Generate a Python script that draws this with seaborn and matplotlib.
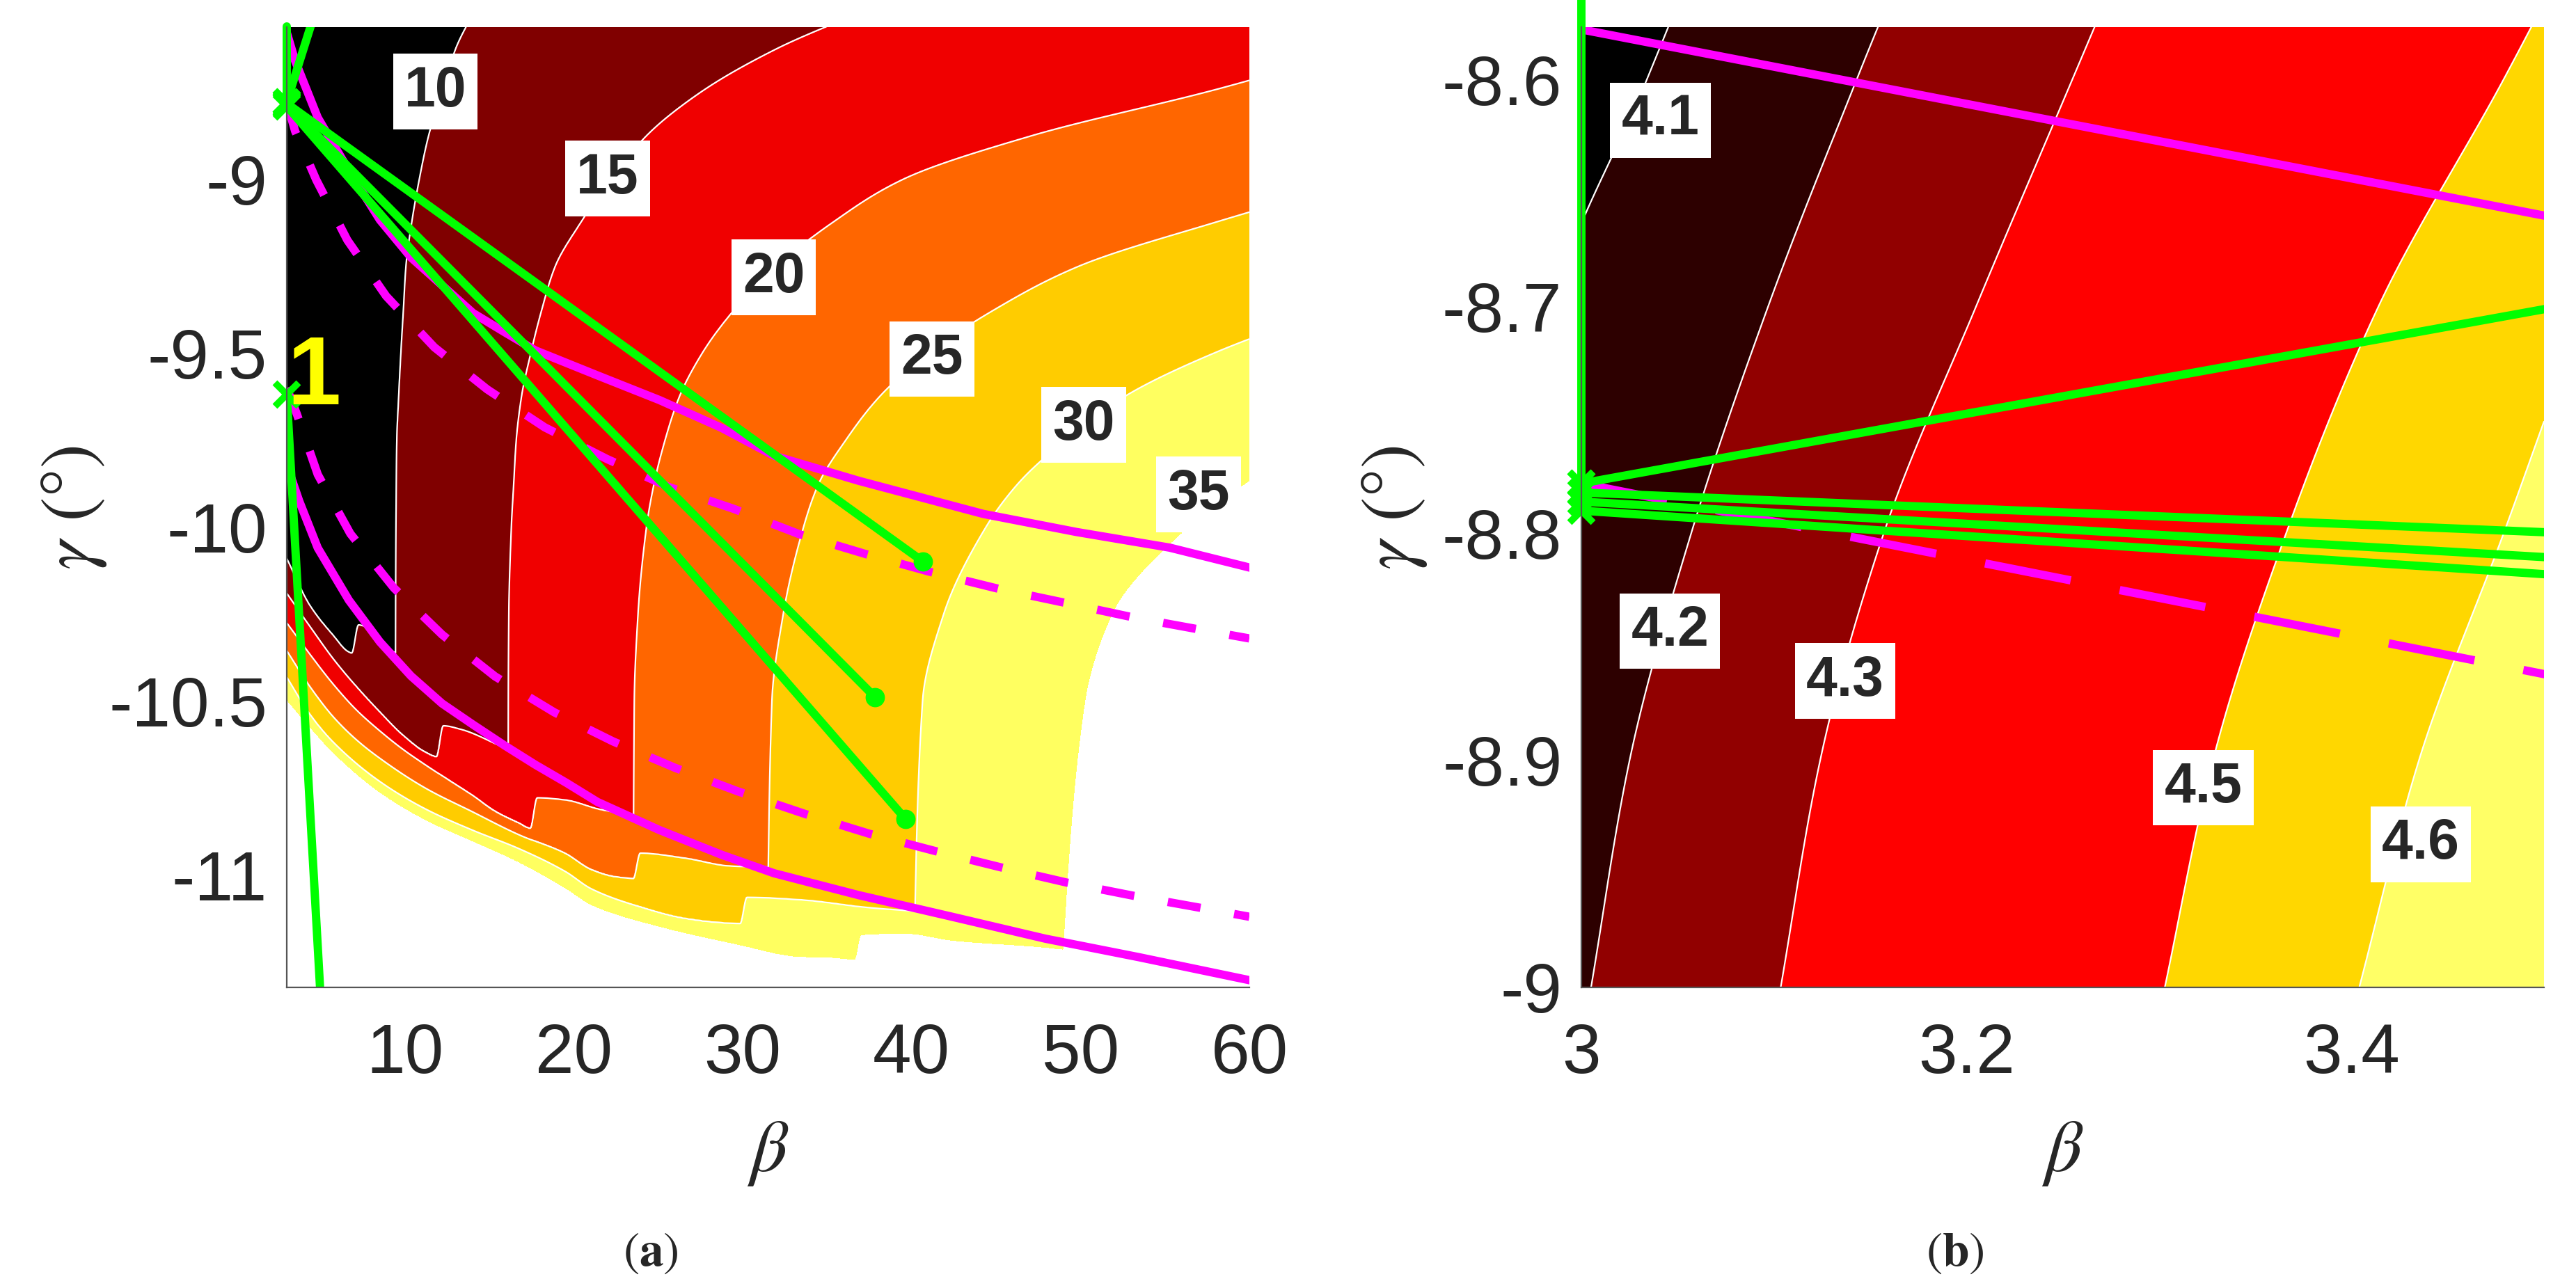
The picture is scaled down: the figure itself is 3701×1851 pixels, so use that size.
import numpy as np
import seaborn as sns
import matplotlib
matplotlib.use('Agg')
import matplotlib.pyplot as plt

sns.set_style('white')
plt.rcParams['font.family'] = ['Liberation Sans', 'DejaVu Sans']
plt.rcParams['mathtext.fontset'] = 'stix'
plt.rcParams['axes.unicode_minus'] = False

# ---------------- panel (a) : contour positions ----------------
lev_a = [10, 15, 20, 25, 30, 35]
colors_a = ['#000000', '#800000', '#f00000', '#ff6600', '#ffcc00', '#ffff60', '#ffffff']

# beta of each contour line at these gamma rows (upper, bending part)
gam_rows_a = [-11.4, -10.5, -10.25, -10.0, -9.875, -9.75, -9.625, -9.5, -9.375,
              -9.25, -9.125, -9.0, -8.875, -8.75, -8.625, -8.5]
beta_c10 = [9.44, 9.44, 9.45, 9.47, 9.49, 9.52, 9.63, 9.76, 9.91, 10.06, 10.4, 10.85, 11.4, 12.2, 13.0, 14.3]
beta_c15 = [16.1, 16.12, 16.15, 16.3, 16.44, 16.59, 16.9, 17.45, 18.1, 18.9, 20.4, 22.2, 24.3, 27.5, 32.0, 38.0]
beta_c20 = [23.5, 23.58, 23.8, 24.3, 24.75, 25.4, 26.25, 27.6, 29.5, 32.0, 35.3, 39.5, 47.1, 57.4, 67.0, 80.0]
beta_c25 = [31.4, 31.73, 32.4, 33.6, 34.5, 36.1, 38.1, 41.0, 44.9, 49.9, 57.9, 67.0, 78.0, 90.0, 102.0, 115.0]
beta_c30 = [40.05, 40.65, 41.9, 44.4, 46.3, 49.1, 52.6, 57.9, 65.0, 74.0, 85.0, 97.0, 110.0, 123.0, 137.0, 150.0]
beta_c35 = [48.7, 50.3, 51.9, 56.4, 59.8, 64.0, 69.0, 75.0, 82.0, 90.0, 100.0, 111.0, 123.0, 136.0, 150.0, 165.0]

# contour lines along the lower-left boundary (gamma as a function of beta)
wall10_b = [3.0, 4.37, 5.75, 6.64, 6.85, 7.25, 9.44, 12.0, 16.0, 30.0, 60.0]
wall10_g = [-10.09, -10.225, -10.311, -10.358, -10.362, -10.281, -10.362, -10.43, -10.50, -10.70, -10.95]
wall15_b = [3.0, 4.37, 5.75, 7.12, 8.5, 9.87, 11.24, 11.87, 12.27, 13.3, 16.12, 23.5, 40.0, 60.0]
wall15_g = [-10.19, -10.285, -10.378, -10.458, -10.531, -10.598, -10.648, -10.66, -10.571, -10.581, -10.638,
            -10.75, -10.95, -11.10]
wall20_b = [3.0, 4.37, 5.75, 7.12, 8.5, 9.87, 11.24, 12.62, 13.99, 15.37, 16.74, 17.43, 17.83, 19.49, 21.55,
            23.52, 31.5, 60.0]
wall20_g = [-10.275, -10.365, -10.451, -10.525, -10.585, -10.638, -10.684, -10.728, -10.771, -10.818, -10.851,
            -10.866, -10.778, -10.784, -10.811, -10.828, -10.90, -11.15]
wall25_b = [3.0, 4.37, 5.75, 7.12, 8.5, 11.24, 13.99, 16.74, 19.49, 21.05, 22.42, 23.53, 23.93, 26.55, 29.29,
            31.5, 40.0, 60.0]
wall25_g = [-10.355, -10.458, -10.545, -10.611, -10.664, -10.751, -10.818, -10.884, -10.938, -10.985, -11.005,
            -11.01, -10.937, -10.951, -10.974, -10.977, -11.04, -11.2]
wall30_b = [3.0, 4.37, 5.75, 8.5, 11.24, 13.99, 16.74, 19.5, 21.05, 23.8, 26.55, 28.6, 29.85, 30.25, 33.42,
            37.54, 40.1, 60.0]
wall30_g = [-10.431, -10.538, -10.618, -10.731, -10.811, -10.871, -10.924, -10.99, -11.04, -11.09, -11.125,
            -11.137, -11.14, -11.064, -11.071, -11.094, -11.104, -11.25]
wall35_b = [3.0, 4.37, 5.75, 8.5, 11.24, 13.99, 16.74, 19.5, 21.05, 25.17, 29.29, 33.42, 35.48, 36.65, 37.05,
            39.6, 42.4, 47.9, 48.8, 60.0]
wall35_g = [-10.50, -10.578, -10.651, -10.764, -10.844, -10.904, -10.965, -11.04, -11.088, -11.151, -11.197,
            -11.237, -11.24, -11.245, -11.174, -11.17, -11.19, -11.21, -11.215, -11.28]

labels_a = ['10', '15', '20', '25', '30', '35']
label_a_beta = [11.8, 22.0, 31.83, 41.2, 50.2, 57.0]
label_a_gam = [-8.748, -8.998, -9.282, -9.517, -9.706, -9.906]

# ---------------- panel (b) ----------------
lev_b = [4.1, 4.2, 4.3, 4.5, 4.6]
colors_b = ['#000000', '#2d0000', '#910000', '#ff0000', '#ffd700', '#ffff66']
gam_rows_b = [-9.0, -8.9, -8.8, -8.7, -8.6, -8.55]
beta_b41 = [2.91, 2.94, 2.965, 2.985, 3.034, 3.058]
beta_b42 = [3.005, 3.025, 3.057, 3.097, 3.143, 3.167]
beta_b43 = [3.1035, 3.124, 3.157, 3.205, 3.255, 3.28]
beta_b45 = [3.303, 3.328, 3.366, 3.414, 3.479, 3.51]
beta_b46 = [3.404, 3.435, 3.479, 3.522, 3.57, 3.595]

labels_b = ['4.1', '4.2', '4.3', '4.5', '4.6']
label_b_beta = [3.041, 3.046, 3.137, 3.323, 3.436]
label_b_gam = [-8.618, -8.843, -8.865, -8.912, -8.937]

# ---------------- overlay curves (shared by both panels) ----------------
mag_hi_b = [3.0, 3.5, 4.84, 6.68, 8.52, 10.36, 12.2, 14.04, 15.88, 17.72, 21.4, 25.08, 28.76, 31.86,
            36.88, 44.24, 49.76, 55.28, 60.07]
mag_hi_g = [-8.578, -8.660, -8.823, -8.975, -9.117, -9.225, -9.305, -9.385, -9.439, -9.492, -9.564,
            -9.635, -9.715, -9.795, -9.867, -9.962, -10.014, -10.059, -10.117]
mag_hid_b = [3.0, 3.5, 4.75, 6.59, 8.89, 11.74, 14.87, 18.27, 21.95, 25.64, 29.44, 33.33, 37.25, 41.2,
             45.12, 49.12, 53.17, 57.12, 60.0]
mag_hid_g = [-8.778, -8.862, -9.002, -9.175, -9.336, -9.483, -9.604, -9.713, -9.804, -9.885, -9.947,
             -10.02, -10.077, -10.13, -10.177, -10.218, -10.26, -10.295, -10.32]
mag_lo_b = [3.0, 3.74, 4.84, 6.68, 8.52, 10.36, 12.2, 14.04, 15.88, 17.72, 19.56, 21.4, 25.08, 28.76,
            31.86, 36.88, 42.4, 47.92, 53.44, 60.07]
mag_lo_g = [-9.82, -9.925, -10.06, -10.21, -10.33, -10.428, -10.507, -10.568, -10.627, -10.683, -10.735,
            -10.79, -10.871, -10.942, -10.995, -11.058, -11.12, -11.183, -11.236, -11.303]
mag_lod_b = [3.0, 3.6, 4.84, 6.77, 9.35, 12.2, 15.33, 18.83, 22.32, 26.0, 29.68, 33.66, 37.47, 41.39,
             45.29, 49.21, 53.17, 57.18, 60.0]
mag_lod_g = [-9.60, -9.675, -9.849, -10.019, -10.175, -10.309, -10.429, -10.532, -10.616, -10.692,
             -10.759, -10.824, -10.881, -10.931, -10.978, -11.022, -11.06, -11.095, -11.12]

# green straight paths: start (beta, gamma) -> end (beta, gamma)
green_start_b = [3.0, 3.0, 3.0, 3.0, 3.0, 3.0]
green_start_g = [-8.778, -8.778, -8.782, -8.786, -8.790, -9.618]
green_end_b = [3.0, 4.42, 40.68, 37.84, 39.64, 4.97]
green_end_g = [-8.56, -8.56, -10.099, -10.489, -10.839, -11.32]
green_dot_idx = [2, 3, 4]


def pchip(x, y, xn):
    # monotone cubic through the read points (keeps the contour shapes smooth)
    x = np.asarray(x, float)
    y = np.asarray(y, float)
    xn = np.clip(np.asarray(xn, float), x[0], x[-1])
    h = np.diff(x)
    d = np.diff(y) / h
    m = np.zeros_like(y)
    m[0], m[-1] = d[0], d[-1]
    for k in range(1, len(x) - 1):
        if d[k - 1] * d[k] > 0:
            w1, w2 = 2 * h[k] + h[k - 1], h[k] + 2 * h[k - 1]
            m[k] = (w1 + w2) / (w1 / d[k - 1] + w2 / d[k])
    i = np.clip(np.searchsorted(x, xn) - 1, 0, len(x) - 2)
    t = (xn - x[i]) / h[i]
    return ((2 * t**3 - 3 * t**2 + 1) * y[i] + (t**3 - 2 * t**2 + t) * h[i] * m[i]
            + (-2 * t**3 + 3 * t**2) * y[i + 1] + (t**3 - t**2) * h[i] * m[i + 1])


def base_field(bb, gg, rows, table, levels, lo, hi):
    pos = np.array([pchip(rows, col, gg) for col in table])
    out = np.empty((len(gg), len(bb)))
    for i in range(len(gg)):
        out[i] = np.interp(bb, [lo[0]] + list(pos[:, i]) + [hi[0]], [lo[1]] + list(levels) + [hi[1]])
    return out


def wall_field(bb, gg, paths, levels):
    G = np.array([pchip(p[0], p[1], bb) for p in paths])
    vs = np.concatenate(([60.0], np.array(levels[::-1], float), [0.0]))
    out = np.empty((len(gg), len(bb)))
    for j in range(len(bb)):
        gs = np.concatenate(([G[-1, j] - 0.3], G[::-1, j], [G[0, j] + 0.25]))
        out[:, j] = np.interp(gg, gs, vs)
    return out


fig = plt.figure(figsize=(18.505, 9.255), dpi=200)
ax_a = fig.add_axes([0.1113, 0.2334, 0.3737, 0.7455])
ax_b = fig.add_axes([0.6139, 0.2334, 0.3737, 0.7455])

# field (a)
bb_a = np.linspace(3, 60, 1400)
gg_a = np.linspace(-11.33, -8.55, 1000)
V_base = base_field(bb_a, gg_a, gam_rows_a,
                    [beta_c10, beta_c15, beta_c20, beta_c25, beta_c30, beta_c35],
                    lev_a, (-10.0, 0.0), (400.0, 60.0))
V_wall = wall_field(bb_a, gg_a,
                    [(wall10_b, wall10_g), (wall15_b, wall15_g), (wall20_b, wall20_g),
                     (wall25_b, wall25_g), (wall30_b, wall30_g), (wall35_b, wall35_g)], lev_a)
V_a = np.maximum(V_base, V_wall)
ax_a.contourf(bb_a, gg_a, V_a, levels=[-1e3] + lev_a + [1e3], colors=colors_a)
ax_a.contour(bb_a, gg_a, V_a, levels=lev_a[:-1], colors='white', linewidths=0.8)

# field (b)
bb_b = np.linspace(3, 3.5, 900)
gg_b = np.linspace(-9.0, -8.55, 800)
V_b = base_field(bb_b, gg_b, gam_rows_b, [beta_b41, beta_b42, beta_b43, beta_b45, beta_b46],
                 lev_b, (2.0, 3.0), (5.0, 6.0))
ax_b.contourf(bb_b, gg_b, V_b, levels=[-1e3] + lev_b + [1e3], colors=colors_b)
ax_b.contour(bb_b, gg_b, V_b, levels=lev_b, colors='white', linewidths=0.8)

box = dict(boxstyle='square,pad=0.2', fc='white', ec='none')
for t, x, y in zip(labels_a, label_a_beta, label_a_gam):
    ax_a.text(x, y, t, ha='center', va='center', fontsize=29, fontweight='bold', bbox=box, zorder=3)
for t, x, y in zip(labels_b, label_b_beta, label_b_gam):
    ax_b.text(x, y, t, ha='center', va='center', fontsize=29, fontweight='bold', bbox=box, zorder=3)

LW = 4.3
for ax, dash in ((ax_a, (4.0, 4.1)), (ax_b, (10.5, 6.0))):
    sns.lineplot(x=mag_hi_b, y=mag_hi_g, ax=ax, color='#ff00ff', lw=LW, sort=False, estimator=None, zorder=4)
    sns.lineplot(x=mag_lo_b, y=mag_lo_g, ax=ax, color='#ff00ff', lw=LW, sort=False, estimator=None, zorder=4)
    for xb, yg in ((mag_hid_b, mag_hid_g), (mag_lod_b, mag_lod_g)):
        sns.lineplot(x=xb, y=yg, ax=ax, color='#ff00ff', lw=LW, sort=False, estimator=None, zorder=4)
        ax.lines[-1].set_dashes(dash)
    for k in range(len(green_start_b)):
        sns.lineplot(x=[green_start_b[k], green_end_b[k]], y=[green_start_g[k], green_end_g[k]], ax=ax,
                     color='#00ff00', lw=LW, sort=False, estimator=None, zorder=5)
    ax.lines[-6].set_clip_on(False)
    ax.plot(green_start_b, green_start_g, 'x', ms=12, mew=3.5, color='#00ff00', zorder=6, clip_on=False)
    ax.plot([green_end_b[i] for i in green_dot_idx], [green_end_g[i] for i in green_dot_idx], 'o',
            ms=9, color='#00ff00', zorder=6)

ax_a.text(4.6, -9.575, '1', color='#ffff00', fontsize=50, fontweight='bold', ha='center', va='center', zorder=7)

ax_a.set_xlim(3, 60)
ax_a.set_ylim(-11.323, -8.563)
ax_a.set_xticks([10, 20, 30, 40, 50, 60])
ax_a.set_yticks([-11, -10.5, -10, -9.5, -9])
ax_b.set_xlim(3, 3.5)
ax_b.set_ylim(-9.0, -8.577)
ax_b.set_xticks([3, 3.2, 3.4])
ax_b.set_yticks([-9, -8.9, -8.8, -8.7, -8.6])

for ax, ylx in ((ax_a, -0.221), (ax_b, -0.1945)):
    ax.xaxis.set_major_formatter(matplotlib.ticker.FormatStrFormatter('%g'))
    ax.yaxis.set_major_formatter(matplotlib.ticker.FormatStrFormatter('%g'))
    for s in ('top', 'right'):
        ax.spines[s].set_visible(False)
    for s in ('left', 'bottom'):
        ax.spines[s].set_color('#555555')
        ax.spines[s].set_linewidth(0.8)
        ax.spines[s].set_zorder(8)
    ax.tick_params(axis='both', length=0, labelsize=36, labelcolor='#262626')
    ax.tick_params(axis='x', pad=18)
    ax.tick_params(axis='y', pad=10)
    ax.set_xlabel(r'$\beta$', fontsize=38, fontfamily='STIXGeneral', color='#262626', va='center')
    ax.set_ylabel(r'$\gamma$ (°)', fontsize=38, fontfamily='STIXGeneral', color='#262626', va='center')
    ax.xaxis.set_label_coords(0.5, -0.173)
    ax.yaxis.set_label_coords(ylx, 0.5)

fig.text(0.2525, 0.0265, r'($\mathbf{a}$)', ha='center', va='center', fontsize=25, fontfamily='STIXGeneral')
fig.text(0.7589, 0.0265, r'($\mathbf{b}$)', ha='center', va='center', fontsize=25, fontfamily='STIXGeneral')

fig.savefig('out.png', dpi=200, facecolor='white')
